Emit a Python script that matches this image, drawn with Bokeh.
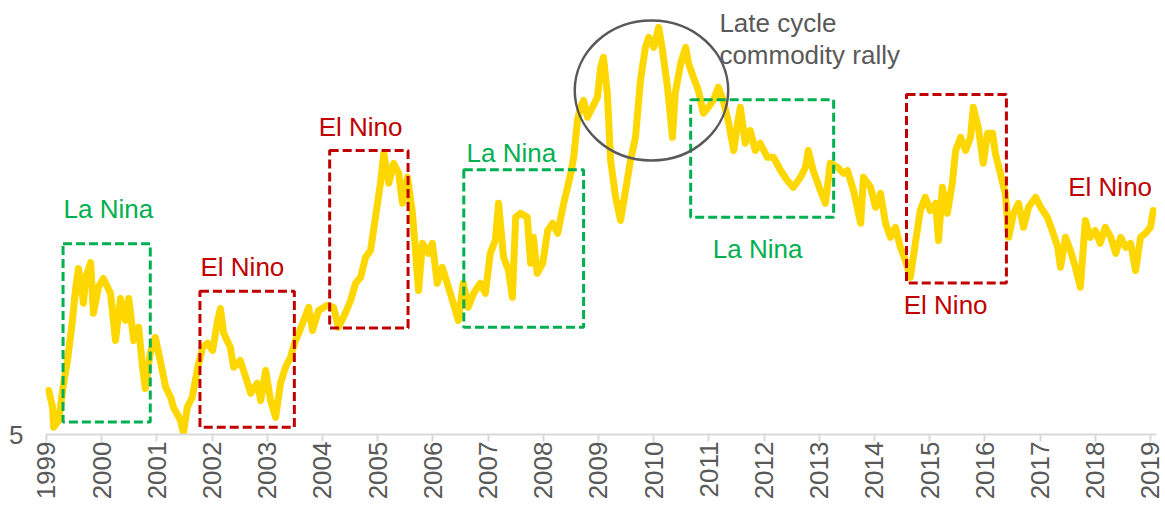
import math
from bokeh.plotting import figure
from bokeh.models import FixedTicker, Label, Range1d, ColumnDataSource
from bokeh.embed import file_html
from bokeh.resources import INLINE

# ---- data ----
dates = [1999.04, 1999.11, 1999.13, 1999.22, 1999.31, 1999.38, 1999.47, 1999.53, 1999.58, 1999.67,
         1999.71, 1999.80, 1999.85, 1999.94, 2000.03, 2000.16, 2000.25, 2000.34, 2000.43, 2000.49,
         2000.58, 2000.67, 2000.74, 2000.79, 2000.88, 2000.97, 2001.06, 2001.16, 2001.25, 2001.30,
         2001.43, 2001.48, 2001.55, 2001.64, 2001.74, 2001.83, 2001.92, 2002.01, 2002.10, 2002.15,
         2002.21, 2002.33, 2002.39, 2002.51, 2002.61, 2002.70, 2002.82, 2002.88, 2002.97, 2003.06,
         2003.15, 2003.24, 2003.33, 2003.42, 2003.51, 2003.57, 2003.66, 2003.75, 2003.82, 2003.93,
         2004.09, 2004.20, 2004.29, 2004.38, 2004.51, 2004.60, 2004.69, 2004.78, 2004.87, 2004.96,
         2005.05, 2005.11, 2005.20, 2005.29, 2005.38, 2005.45, 2005.54, 2005.63, 2005.68, 2005.74,
         2005.81, 2005.92, 2005.99, 2006.08, 2006.17, 2006.26, 2006.37, 2006.46, 2006.55, 2006.64,
         2006.74, 2006.86, 2006.95, 2007.04, 2007.13, 2007.19, 2007.28, 2007.37, 2007.44, 2007.50,
         2007.59, 2007.71, 2007.77, 2007.82, 2007.89, 2007.99, 2008.08, 2008.17, 2008.26, 2008.37,
         2008.44, 2008.50, 2008.55, 2008.62, 2008.67, 2008.73, 2008.80, 2008.89, 2008.98, 2009.04,
         2009.09, 2009.16, 2009.22, 2009.31, 2009.40, 2009.49, 2009.58, 2009.67, 2009.76, 2009.85,
         2009.91, 2010.00, 2010.09, 2010.16, 2010.25, 2010.34, 2010.39, 2010.49, 2010.58, 2010.63,
         2010.72, 2010.81, 2010.90, 2010.99, 2011.08, 2011.17, 2011.26, 2011.36, 2011.45, 2011.52,
         2011.57, 2011.66, 2011.75, 2011.84, 2011.93, 2012.06, 2012.17, 2012.30, 2012.42, 2012.53,
         2012.66, 2012.75, 2012.80, 2012.89, 2013.02, 2013.11, 2013.20, 2013.33, 2013.44, 2013.51,
         2013.62, 2013.75, 2013.80, 2013.93, 2014.02, 2014.11, 2014.20, 2014.29, 2014.38, 2014.47,
         2014.56, 2014.65, 2014.74, 2014.83, 2014.92, 2015.01, 2015.11, 2015.16, 2015.23, 2015.32,
         2015.41, 2015.47, 2015.56, 2015.65, 2015.74, 2015.79, 2015.88, 2015.97, 2016.05, 2016.14,
         2016.19, 2016.28, 2016.37, 2016.43, 2016.52, 2016.61, 2016.70, 2016.79, 2016.92, 2017.01,
         2017.13, 2017.22, 2017.32, 2017.37, 2017.46, 2017.55, 2017.64, 2017.73, 2017.82, 2017.91,
         2018.00, 2018.09, 2018.18, 2018.28, 2018.37, 2018.46, 2018.55, 2018.64, 2018.73, 2018.82,
         2018.91, 2019.00, 2019.05]
values = [6.10, 5.68, 5.18, 5.35, 6.28, 6.85, 7.85, 8.68, 9.15, 8.28,
          8.93, 9.30, 8.03, 8.68, 8.90, 8.53, 7.35, 8.40, 7.85, 8.40,
          7.35, 7.68, 6.68, 6.15, 7.03, 7.43, 6.85, 6.18, 5.93, 5.68,
          5.35, 5.03, 5.68, 5.93, 6.68, 7.18, 7.28, 7.10, 7.85, 8.15,
          7.53, 7.18, 6.68, 6.85, 6.43, 6.03, 6.28, 5.85, 6.60, 5.85,
          5.43, 6.28, 6.68, 6.93, 7.35, 7.53, 7.85, 8.18, 7.60, 8.10,
          8.23, 8.18, 7.68, 7.93, 8.35, 8.78, 8.93, 9.43, 9.60, 10.43,
          11.28, 12.03, 11.28, 11.78, 11.53, 10.78, 11.43, 10.53, 9.68, 8.60,
          9.78, 9.53, 9.78, 8.78, 9.18, 8.78, 8.28, 7.85, 8.78, 8.18,
          8.53, 8.78, 8.53, 9.53, 9.85, 10.78, 9.43, 9.10, 8.43, 10.43,
          10.53, 10.43, 9.28, 9.93, 9.03, 9.28, 10.10, 10.28, 10.03, 10.78,
          11.18, 11.53, 11.93, 12.85, 13.18, 13.35, 12.93, 13.18, 13.43, 14.18,
          14.43, 13.53, 11.85, 10.93, 10.35, 11.10, 11.85, 12.43, 13.85, 14.68,
          14.93, 14.68, 15.18, 14.60, 13.68, 12.43, 13.53, 14.28, 14.68, 14.28,
          13.93, 13.60, 13.03, 13.18, 13.35, 13.68, 13.35, 12.78, 12.10, 12.78,
          13.18, 12.28, 12.60, 12.10, 12.28, 11.93, 11.93, 11.60, 11.35, 11.18,
          11.43, 11.68, 12.10, 11.60, 11.10, 10.78, 11.78, 11.68, 11.53, 11.60,
          11.10, 10.28, 11.43, 11.18, 10.68, 11.03, 10.28, 9.93, 10.18, 9.68,
          9.35, 8.93, 9.78, 10.60, 10.93, 10.60, 10.78, 9.85, 11.18, 10.53,
          11.28, 12.10, 12.43, 12.10, 12.43, 13.18, 12.68, 11.78, 12.53, 12.53,
          12.03, 11.53, 11.03, 9.93, 10.53, 10.78, 10.18, 10.68, 10.93, 10.68,
          10.43, 10.10, 9.68, 9.18, 9.93, 9.60, 9.18, 8.68, 10.35, 9.93,
          10.10, 9.78, 10.18, 9.93, 9.53, 9.93, 9.68, 9.78, 9.10, 9.93,
          10.03, 10.18, 10.60]

la_nina_start = [1999.30, 2006.56, 2010.67]
la_nina_end = [2000.88, 2008.73, 2013.26]
la_nina_high = [9.77, 11.62, 13.37]
la_nina_low = [5.31, 7.68, 10.43]

el_nino_start = [2001.78, 2004.13, 2014.58]
el_nino_end = [2003.49, 2005.55, 2016.39]
el_nino_high = [8.58, 12.10, 13.50]
el_nino_low = [5.18, 7.66, 8.79]

year_ticks = list(range(1999, 2020))
value_ticks = [5]

# ---- styles ----
GOLD = "#FFD700"
GREEN = "#00B050"
RED = "#C00000"
GREY = "#595959"
FONT = "Liberation Sans"

p = figure(width=1164, height=510,
           x_range=Range1d(1998.982, 2019.109), y_range=Range1d(5, 15.65),
           output_backend="svg", toolbar_location=None,
           min_border_left=45, min_border_right=8, min_border_top=8, min_border_bottom=76)
p.outline_line_color = None
p.xgrid.visible = False
p.ygrid.visible = False
p.background_fill_color = "white"
p.border_fill_color = "white"

src = ColumnDataSource(dict(x=dates, y=values))
p.line("x", "y", source=src, line_color=GOLD, line_width=7, line_join="round", line_cap="round")

# dashed boxes
p.quad(left=la_nina_start, right=la_nina_end, top=la_nina_high, bottom=la_nina_low,
       fill_color=None, line_color=GREEN, line_width=3, line_dash="9 4")
p.quad(left=el_nino_start, right=el_nino_end, top=el_nino_high, bottom=el_nino_low,
       fill_color=None, line_color=RED, line_width=3, line_dash="9 4")

# ellipse around the 2009-2011 rally
p.ellipse(x=[2009.96], y=[13.6], width=[2.78], height=[3.5],
          fill_color=None, line_color=GREY, line_width=2.5)

def add_label(x, y, text, color):
    p.add_layout(Label(x=x, y=y, text=text, text_color=color, text_font=FONT,
                       text_font_size="26px", text_align="left", text_baseline="middle"))

add_label(1999.31, 10.63, "La Nina", GREEN)
add_label(2001.79, 9.20, "El Nino", RED)
add_label(2003.93, 12.68, "El Nino", RED)
add_label(2006.61, 12.05, "La Nina", GREEN)
add_label(2011.19, 15.30, "Late cycle", GREY)
add_label(2011.19, 14.50, "commodity rally", GREY)
add_label(2011.07, 9.65, "La Nina", GREEN)
add_label(2014.53, 8.23, "El Nino", RED)
add_label(2017.51, 11.18, "El Nino", RED)

# x axis
xa = p.xaxis[0]
xa.ticker = FixedTicker(ticks=year_ticks)
xa.major_label_overrides = {y: str(y) for y in year_ticks}
xa.major_label_orientation = math.pi / 2
xa.major_label_text_font = FONT
xa.major_label_text_font_size = "26px"
xa.major_label_text_color = GREY
xa.axis_line_color = "#D9D9D9"
xa.axis_line_width = 2
xa.major_tick_line_color = "#D9D9D9"
xa.major_tick_line_width = 2
xa.major_tick_out = 7
xa.major_tick_in = 0
xa.minor_tick_line_color = None
xa.major_label_standoff = 0

# y axis
ya = p.yaxis[0]
ya.ticker = FixedTicker(ticks=value_ticks)
ya.axis_line_color = None
ya.major_tick_line_color = None
ya.minor_tick_line_color = None
ya.major_tick_out = 0
ya.major_tick_in = 0
ya.major_label_standoff = 22
ya.major_label_text_font = FONT
ya.major_label_text_font_size = "26px"
ya.major_label_text_color = GREY

open("out.html", "w").write(file_html(p, INLINE))
